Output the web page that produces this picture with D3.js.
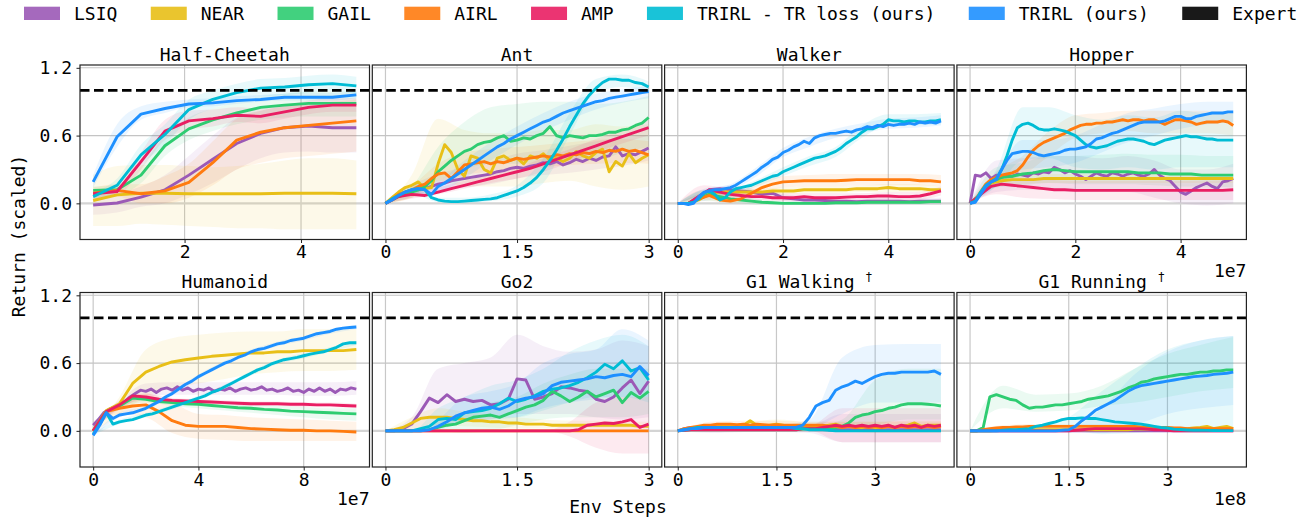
<!DOCTYPE html>
<html>
<head>
<meta charset="utf-8">
<script src="https://cdn.jsdelivr.net/npm/d3@7"></script>
<style>
  body { margin: 0; background: #fff; }
  svg { display: block; }
  text { font-family: "DejaVu Sans Mono", monospace; fill: #000; }
</style>
</head>
<body>
<svg id="chart" width="1299" height="521"></svg>
<script>
// ---- methods (legend order) ----
var methods = ["LSIQ", "NEAR", "GAIL", "AIRL", "AMP", "TRIRL - TR loss (ours)", "TRIRL (ours)"];
var methodColors = ["#9b59b6", "#e8bf17", "#2ecc71", "#ff7b0f", "#e91e63", "#00bcd4", "#1e90ff"];
var expertColor = "#000000";
var expertReturn = 1.0;

// ---- panels ----
var panelTitles = ["Half-Cheetah", "Ant", "Walker", "Hopper", "Humanoid", "Go2", "G1 Walking", "G1 Running"];
var panelDagger = [false, false, false, false, false, false, true, true];
var xSpans = [[0.43, 4.95], [0, 3], [0, 5], [0, 5], [0, 10], [0, 3], [0, 4], [0, 4]];
var xTickVals = [[2, 4], [0, 1.5, 3], [0, 2, 4], [0, 2, 4], [0, 4, 8], [0, 1.5, 3], [0, 1.5, 3], [0, 1.5, 3]];
var xOffsetText = ["", "", "", "1e7", "1e7", "", "", "1e8"];
var yTickVals = [0, 0.6, 1.2];

// each series is sampled evenly over its panel's x span; rows follow `methods`
var halfCheetahMean = [
	[-0.015, 0.003, 0.056, 0.12, 0.25, 0.39, 0.53, 0.62, 0.67, 0.685, 0.67, 0.67],
	[0.025, 0.075, 0.09, 0.09, 0.085, 0.085, 0.085, 0.085, 0.09, 0.09, 0.09, 0.085],
	[0.115, 0.12, 0.25, 0.51, 0.66, 0.74, 0.80, 0.85, 0.87, 0.885, 0.885, 0.885],
	[0.09, 0.115, 0.085, 0.11, 0.185, 0.36, 0.56, 0.63, 0.67, 0.69, 0.71, 0.73],
	[0.085, 0.105, 0.37, 0.64, 0.73, 0.75, 0.78, 0.77, 0.81, 0.85, 0.87, 0.87],
	[0.06, 0.16, 0.43, 0.61, 0.83, 0.92, 0.98, 1.02, 1.03, 1.05, 1.06, 1.04],
	[0.19, 0.59, 0.79, 0.84, 0.88, 0.89, 0.91, 0.92, 0.94, 0.94, 0.94, 0.96]
];
var halfCheetahLo = [
	[-0.1, -0.08, -0.03, 0.0, 0.08, 0.18, 0.3, 0.4, 0.45, 0.46, 0.45, 0.45],
	[-0.2, -0.2, -0.18, -0.19, -0.2, -0.21, -0.22, -0.22, -0.23, -0.23, -0.23, -0.23],
	[0.08, 0.08, 0.18, 0.42, 0.56, 0.64, 0.7, 0.74, 0.76, 0.77, 0.77, 0.77],
	[0.04, 0.06, 0.0, 0.0, 0.05, 0.16, 0.3, 0.36, 0.4, 0.42, 0.44, 0.46],
	[0.05, 0.07, 0.3, 0.56, 0.65, 0.68, 0.72, 0.71, 0.75, 0.79, 0.81, 0.81],
	[0.03, 0.1, 0.34, 0.52, 0.74, 0.84, 0.9, 0.95, 0.96, 0.98, 0.99, 0.97],
	[0.14, 0.5, 0.74, 0.8, 0.85, 0.86, 0.88, 0.9, 0.91, 0.91, 0.91, 0.93]
];
var halfCheetahHi = [
	[0.07, 0.09, 0.15, 0.25, 0.42, 0.6, 0.76, 0.82, 0.86, 0.88, 0.88, 0.88],
	[0.25, 0.33, 0.34, 0.34, 0.33, 0.32, 0.33, 0.35, 0.38, 0.4, 0.4, 0.38],
	[0.15, 0.16, 0.33, 0.6, 0.76, 0.84, 0.9, 0.95, 0.97, 0.99, 0.99, 0.99],
	[0.14, 0.17, 0.17, 0.24, 0.35, 0.55, 0.75, 0.82, 0.86, 0.88, 0.9, 0.92],
	[0.12, 0.14, 0.45, 0.74, 0.82, 0.83, 0.85, 0.84, 0.87, 0.91, 0.93, 0.93],
	[0.1, 0.22, 0.52, 0.7, 0.92, 1.0, 1.06, 1.1, 1.11, 1.13, 1.14, 1.12],
	[0.25, 0.7, 0.86, 0.9, 0.92, 0.93, 0.95, 0.96, 0.97, 0.98, 0.98, 0.99]
];

var antMean = [
	[0, 0.04, 0.08, 0.1, 0.12, 0.12, 0.13, 0.15, 0.17, 0.18, 0.2, 0.21, 0.22, 0.23, 0.24, 0.25, 0.26, 0.28, 0.29, 0.31, 0.32,
	 0.31, 0.33, 0.34, 0.36, 0.35, 0.37, 0.34, 0.36, 0.39, 0.37, 0.4, 0.38, 0.41, 0.42, 0.5, 0.42, 0.44, 0.43, 0.46, 0.49],
	[0, 0.05, 0.1, 0.14, 0.16, 0.19, 0.13, 0.14, 0.35, 0.52, 0.45, 0.3, 0.24, 0.42, 0.4, 0.3, 0.27, 0.4, 0.42, 0.38, 0.4,
	 0.35, 0.42, 0.4, 0.44, 0.38, 0.4, 0.37, 0.4, 0.46, 0.42, 0.4, 0.45, 0.48, 0.28, 0.37, 0.33, 0.44, 0.36, 0.4, 0.43],
	[0, 0.03, 0.06, 0.08, 0.1, 0.12, 0.15, 0.2, 0.28, 0.33, 0.38, 0.42, 0.46, 0.48, 0.52, 0.54, 0.55, 0.58, 0.6, 0.55, 0.56,
	 0.58, 0.57, 0.6, 0.62, 0.68, 0.6, 0.58, 0.6, 0.59, 0.58, 0.6, 0.6, 0.61, 0.63, 0.63, 0.65, 0.66, 0.69, 0.71, 0.76],
	[0, 0.04, 0.08, 0.1, 0.12, 0.15, 0.17, 0.22, 0.26, 0.27, 0.22, 0.28, 0.34, 0.35, 0.36, 0.37, 0.35, 0.37, 0.36, 0.38, 0.4,
	 0.39, 0.4, 0.41, 0.42, 0.41, 0.43, 0.42, 0.44, 0.43, 0.45, 0.44, 0.46, 0.45, 0.47, 0.46, 0.48, 0.46, 0.47, 0.45, 0.43],
	[0, 0.06, 0.08, 0.07, 0.1, 0.13, 0.16, 0.19, 0.22, 0.25, 0.28, 0.31, 0.35, 0.39, 0.43, 0.47, 0.51, 0.55, 0.59, 0.63, 0.67],
	[0, 0.04, 0.07, 0.1, 0.12, 0.13, 0.12, 0.05, 0.03, 0.02, 0.015, 0.015, 0.02, 0.025, 0.03, 0.035, 0.04, 0.05, 0.07, 0.09, 0.11,
	 0.14, 0.18, 0.23, 0.3, 0.38, 0.47, 0.57, 0.68, 0.78, 0.88, 0.96, 1.02, 1.07, 1.1, 1.1, 1.09, 1.09, 1.07, 1.06, 1.03],
	[0, 0.03, 0.07, 0.1, 0.12, 0.13, 0.12, 0.08, 0.15, 0.18, 0.22, 0.26, 0.3, 0.34, 0.38, 0.42, 0.46, 0.5, 0.53, 0.57, 0.6,
	 0.63, 0.66, 0.69, 0.72, 0.74, 0.77, 0.8, 0.82, 0.84, 0.86, 0.88, 0.9, 0.91, 0.93, 0.94, 0.95, 0.96, 0.97, 0.98, 0.99]
];
var antLo = [
	[0, 0.05, 0.1, 0.14, 0.17, 0.22, 0.25, 0.27, 0.3, 0.33, 0.38],
	[0, 0.05, 0.2, 0.15, 0.15, 0.15, 0.18, 0.2, 0.15, 0.12, 0.15],
	[0, 0.06, 0.2, 0.3, 0.35, 0.35, 0.35, 0.38, 0.38, 0.45, 0.5],
	[0, 0.05, 0.15, 0.25, 0.28, 0.3, 0.32, 0.34, 0.35, 0.36, 0.35],
	[0, 0.04, 0.08, 0.13, 0.18, 0.22, 0.28, 0.36, 0.45, 0.53, 0.6],
	[0, 0.08, 0.01, 0.0, 0.02, 0.06, 0.18, 0.6, 0.98, 1.03, 0.98],
	[0, 0.08, 0.1, 0.22, 0.38, 0.52, 0.64, 0.74, 0.83, 0.89, 0.93]
];
var antHi = [
	[0, 0.16, 0.26, 0.32, 0.37, 0.44, 0.47, 0.51, 0.55, 0.58, 0.6],
	[0, 0.25, 0.75, 0.65, 0.62, 0.62, 0.65, 0.65, 0.7, 0.68, 0.7],
	[0, 0.15, 0.5, 0.72, 0.85, 0.88, 0.9, 0.9, 0.88, 0.9, 0.95],
	[0, 0.15, 0.35, 0.45, 0.48, 0.5, 0.52, 0.54, 0.56, 0.57, 0.55],
	[0, 0.09, 0.14, 0.2, 0.26, 0.32, 0.4, 0.48, 0.57, 0.65, 0.74],
	[0, 0.14, 0.05, 0.05, 0.08, 0.16, 0.4, 0.8, 1.1, 1.14, 1.08],
	[0, 0.16, 0.2, 0.38, 0.54, 0.68, 0.8, 0.9, 0.97, 1.01, 1.04]
];

var walkerMean = [
	[0, 0, 0.06, 0.12, 0.13, 0.12, 0.11, 0.1, 0.08, 0.09, 0.05, 0.04, 0.03, 0.03, 0.025, 0.02, 0.02, 0.015, 0.02, 0.02, 0.02, 0.02, 0.015, 0.02, 0.02, 0.02],
	[0, 0, 0.03, 0.09, 0.1, 0.1, 0.1, 0.1, 0.1, 0.11, 0.11, 0.11, 0.12, 0.12, 0.12, 0.12, 0.12, 0.13, 0.13, 0.13, 0.14, 0.13, 0.13, 0.13, 0.12, 0.12],
	[0, 0, 0.04, 0.08, 0.06, 0.04, 0.03, 0.02, 0.01, 0.005, 0, 0, 0, 0, 0, 0.005, 0.005, 0.005, 0.01, 0.01, 0.01, 0.01, 0.01, 0.01, 0.015, 0.015],
	[0, 0, 0.04, 0.07, 0.03, 0.02, 0.04, 0.09, 0.14, 0.17, 0.19, 0.195, 0.2, 0.2, 0.2, 0.2, 0.205, 0.21, 0.21, 0.21, 0.21, 0.21, 0.21, 0.2, 0.2, 0.19],
	[0, 0, 0.06, 0.12, 0.1, 0.08, 0.07, 0.06, 0.06, 0.05, 0.05, 0.05, 0.06, 0.05, 0.05, 0.05, 0.055, 0.06, 0.06, 0.065, 0.065, 0.06, 0.06, 0.065, 0.085, 0.11],
	[0, 0, 0, 0.01, 0.04, 0.09, 0.11, 0.08, 0.03, 0.05, 0.1, 0.13, 0.14, 0.15, 0.16, 0.18, 0.2, 0.22, 0.24, 0.25, 0.28,
	 0.3, 0.32, 0.34, 0.36, 0.38, 0.4, 0.41, 0.42, 0.44, 0.46, 0.49, 0.53, 0.56, 0.59, 0.63, 0.66, 0.66, 0.68, 0.7, 0.74,
	 0.73, 0.73, 0.72, 0.73, 0.73, 0.72, 0.72, 0.73, 0.73, 0.74],
	[0, 0, -0.01, 0, 0.06, 0.1, 0.11, 0.12, 0.12, 0.13, 0.14, 0.16, 0.19, 0.22, 0.25, 0.28, 0.32, 0.35, 0.39, 0.41, 0.45,
	 0.47, 0.5, 0.52, 0.55, 0.53, 0.58, 0.6, 0.61, 0.62, 0.62, 0.63, 0.64, 0.63, 0.65, 0.66, 0.68, 0.67, 0.69, 0.68, 0.7,
	 0.69, 0.7, 0.7, 0.71, 0.7, 0.72, 0.71, 0.72, 0.71, 0.73]
];
var walkerLo = [
	[0, 0.02, 0.06, 0.05, 0.02, 0, -0.01, -0.01, -0.01, -0.01, -0.01],
	[0, 0.04, 0.06, 0.07, 0.08, 0.09, 0.09, 0.1, 0.1, 0.1, 0.09],
	[0, 0.02, 0.01, -0.01, -0.01, -0.01, -0.01, -0.01, -0.01, -0.01, -0.01],
	[0, 0.03, 0.0, 0.06, 0.14, 0.15, 0.15, 0.16, 0.16, 0.16, 0.15],
	[0, 0.06, 0.04, 0.03, 0.02, 0.02, 0.02, 0.02, 0.03, 0.03, 0.07],
	[0, 0.06, 0.07, 0.15, 0.24, 0.33, 0.41, 0.58, 0.69, 0.69, 0.7],
	[0, 0.07, 0.11, 0.24, 0.41, 0.5, 0.58, 0.62, 0.66, 0.67, 0.69]
];
var walkerHi = [
	[0, 0.1, 0.16, 0.12, 0.08, 0.06, 0.05, 0.05, 0.05, 0.05, 0.05],
	[0, 0.1, 0.13, 0.13, 0.14, 0.15, 0.15, 0.16, 0.17, 0.17, 0.15],
	[0, 0.11, 0.08, 0.04, 0.02, 0.02, 0.02, 0.03, 0.03, 0.03, 0.04],
	[0, 0.12, 0.07, 0.18, 0.24, 0.25, 0.26, 0.26, 0.26, 0.26, 0.25],
	[0, 0.16, 0.12, 0.1, 0.09, 0.09, 0.09, 0.09, 0.1, 0.1, 0.15],
	[0, 0.12, 0.13, 0.21, 0.32, 0.42, 0.5, 0.69, 0.79, 0.79, 0.8],
	[0, 0.13, 0.17, 0.32, 0.49, 0.59, 0.66, 0.71, 0.75, 0.76, 0.78]
];

var hopperMean = [
	[0, 0.25, 0.24, 0.27, 0.22, 0.25, 0.23, 0.25, 0.24, 0.26, 0.25, 0.24, 0.27, 0.26, 0.28, 0.27, 0.32, 0.3, 0.27, 0.29, 0.26,
	 0.24, 0.21, 0.24, 0.27, 0.25, 0.24, 0.27, 0.26, 0.24, 0.26, 0.27, 0.25, 0.24, 0.26, 0.3, 0.25, 0.22, 0.2, 0.15, 0.1,
	 0.08, 0.11, 0.14, 0.16, 0.18, 0.15, 0.13, 0.19, 0.2, 0.22],
	[0, 0.08, 0.18, 0.2, 0.21, 0.21, 0.21, 0.22, 0.22, 0.22, 0.22, 0.22, 0.22, 0.22, 0.22, 0.22, 0.22, 0.22, 0.22, 0.22, 0.22, 0.22, 0.22, 0.22, 0.22, 0.22],
	[0, 0.08, 0.19, 0.23, 0.24, 0.26, 0.27, 0.29, 0.3, 0.29, 0.28, 0.28, 0.28, 0.28, 0.28, 0.28, 0.27, 0.27, 0.27, 0.26, 0.26, 0.26, 0.25, 0.25, 0.25, 0.25],
	[0, 0.02, 0.1, 0.17, 0.21, 0.23, 0.25, 0.26, 0.27, 0.29, 0.34, 0.41, 0.47, 0.51, 0.54, 0.56, 0.58, 0.6, 0.62, 0.65, 0.67,
	 0.69, 0.7, 0.7, 0.71, 0.71, 0.72, 0.72, 0.73, 0.74, 0.73, 0.74, 0.74, 0.73, 0.74, 0.74, 0.72, 0.7, 0.72, 0.74, 0.74,
	 0.73, 0.72, 0.7, 0.71, 0.72, 0.72, 0.72, 0.73, 0.72, 0.69],
	[0, 0.08, 0.15, 0.17, 0.16, 0.15, 0.14, 0.13, 0.12, 0.12, 0.115, 0.115, 0.115, 0.115, 0.115, 0.115, 0.115, 0.115, 0.115, 0.115, 0.115, 0.115, 0.115, 0.115, 0.115, 0.12],
	[0, 0.02, 0.1, 0.16, 0.19, 0.22, 0.3, 0.42, 0.56, 0.67, 0.7, 0.71, 0.69, 0.66, 0.65, 0.65, 0.66, 0.65, 0.64, 0.62, 0.6,
	 0.56, 0.52, 0.5, 0.49, 0.5, 0.51, 0.53, 0.55, 0.56, 0.57, 0.57, 0.56, 0.55, 0.53, 0.52, 0.54, 0.56, 0.57, 0.58, 0.59,
	 0.6, 0.59, 0.59, 0.58, 0.57, 0.57, 0.56, 0.56, 0.56, 0.56],
	[0, 0.01, 0.08, 0.15, 0.19, 0.21, 0.3, 0.38, 0.44, 0.45, 0.46, 0.46, 0.45, 0.43, 0.42, 0.43, 0.44, 0.45, 0.47, 0.48, 0.48,
	 0.49, 0.5, 0.53, 0.57, 0.58, 0.6, 0.62, 0.63, 0.65, 0.67, 0.69, 0.71, 0.72, 0.72, 0.72, 0.72, 0.73, 0.75, 0.77, 0.77,
	 0.75, 0.75, 0.77, 0.78, 0.79, 0.8, 0.8, 0.8, 0.81, 0.81]
];
var hopperLo = [
	[0, 0.1, 0.12, 0.12, 0.1, 0.1, 0.1, 0.05, 0.0, -0.02, 0.0],
	[0, 0.15, 0.17, 0.18, 0.18, 0.18, 0.18, 0.18, 0.18, 0.18, 0.18],
	[0, 0.14, 0.16, 0.18, 0.17, 0.17, 0.17, 0.16, 0.15, 0.15, 0.14],
	[0, 0.18, 0.25, 0.42, 0.58, 0.62, 0.64, 0.62, 0.62, 0.62, 0.6],
	[0, 0.08, 0.05, 0.04, 0.03, 0.03, 0.03, 0.03, 0.03, 0.03, 0.03],
	[0, 0.15, 0.38, 0.4, 0.32, 0.3, 0.32, 0.3, 0.32, 0.32, 0.32],
	[0, 0.15, 0.3, 0.32, 0.36, 0.45, 0.54, 0.6, 0.66, 0.7, 0.72]
];
var hopperHi = [
	[0, 0.38, 0.4, 0.42, 0.42, 0.4, 0.42, 0.38, 0.3, 0.3, 0.35],
	[0, 0.23, 0.25, 0.26, 0.26, 0.26, 0.26, 0.26, 0.26, 0.26, 0.26],
	[0, 0.32, 0.36, 0.42, 0.42, 0.43, 0.44, 0.43, 0.43, 0.42, 0.42],
	[0, 0.28, 0.42, 0.64, 0.78, 0.8, 0.82, 0.82, 0.82, 0.82, 0.8],
	[0, 0.24, 0.23, 0.21, 0.2, 0.2, 0.2, 0.2, 0.2, 0.2, 0.21],
	[0, 0.3, 0.85, 0.85, 0.78, 0.74, 0.78, 0.76, 0.82, 0.8, 0.8],
	[0, 0.27, 0.56, 0.56, 0.6, 0.7, 0.8, 0.84, 0.88, 0.9, 0.9]
];

var humanoidMean = [
	[0.05, 0.1, 0.16, 0.19, 0.21, 0.23, 0.26, 0.3, 0.33, 0.36, 0.35, 0.37, 0.34, 0.37, 0.38, 0.36, 0.39, 0.36, 0.38, 0.35, 0.37,
	 0.36, 0.38, 0.35, 0.37, 0.36, 0.38, 0.35, 0.37, 0.38, 0.36, 0.37, 0.39, 0.36, 0.37, 0.35, 0.36, 0.38, 0.35, 0.36, 0.34,
	 0.37, 0.35, 0.38, 0.35, 0.37, 0.34, 0.37, 0.36, 0.38, 0.37],
	[0.0, 0.18, 0.24, 0.42, 0.52, 0.57, 0.61, 0.63, 0.645, 0.66, 0.67, 0.68, 0.69, 0.69, 0.7, 0.7, 0.71, 0.71, 0.71, 0.71, 0.72],
	[0, 0.17, 0.22, 0.29, 0.28, 0.26, 0.25, 0.24, 0.235, 0.225, 0.215, 0.205, 0.2, 0.19, 0.185, 0.175, 0.17, 0.165, 0.16, 0.155, 0.15],
	[0, 0.17, 0.2, 0.22, 0.23, 0.17, 0.09, 0.05, 0.04, 0.04, 0.04, 0.03, 0.02, 0.015, 0.01, 0.005, 0.005, 0.0, 0.0, -0.005, -0.01],
	[0, 0.17, 0.23, 0.31, 0.3, 0.28, 0.27, 0.265, 0.26, 0.255, 0.25, 0.245, 0.24, 0.24, 0.24, 0.235, 0.235, 0.23, 0.23, 0.225, 0.22],
	[-0.03, 0.06, 0.16, 0.06, 0.08, 0.09, 0.1, 0.12, 0.14, 0.15, 0.17, 0.19, 0.21, 0.23, 0.25, 0.27, 0.29, 0.31, 0.34, 0.36, 0.39,
	 0.42, 0.45, 0.48, 0.51, 0.54, 0.56, 0.59, 0.61, 0.63, 0.64, 0.65, 0.665, 0.68, 0.69, 0.7, 0.72, 0.74, 0.77, 0.78, 0.78],
	[-0.04, 0.05, 0.16, 0.11, 0.14, 0.15, 0.16, 0.18, 0.2, 0.23, 0.26, 0.3, 0.33, 0.37, 0.41, 0.44, 0.48, 0.51, 0.54, 0.57, 0.6,
	 0.62, 0.65, 0.67, 0.7, 0.72, 0.73, 0.75, 0.77, 0.78, 0.8, 0.81, 0.82, 0.84, 0.86, 0.87, 0.88, 0.9, 0.91, 0.915, 0.92]
];
var humanoidLo = [
	[0.02, 0.19, 0.3, 0.32, 0.32, 0.32, 0.32, 0.32, 0.31, 0.31, 0.32],
	[-0.02, 0.15, 0.3, 0.38, 0.42, 0.46, 0.5, 0.52, 0.53, 0.53, 0.54],
	[0, 0.2, 0.25, 0.22, 0.2, 0.18, 0.16, 0.14, 0.12, 0.1, 0.09],
	[0, 0.15, 0.12, -0.02, -0.07, -0.08, -0.09, -0.09, -0.09, -0.09, -0.09],
	[0, 0.2, 0.27, 0.25, 0.24, 0.23, 0.22, 0.22, 0.21, 0.21, 0.2],
	[-0.04, 0.06, 0.12, 0.19, 0.27, 0.37, 0.49, 0.59, 0.64, 0.7, 0.76],
	[-0.05, 0.12, 0.18, 0.31, 0.46, 0.58, 0.68, 0.75, 0.8, 0.86, 0.9]
];
var humanoidHi = [
	[0.08, 0.27, 0.42, 0.43, 0.43, 0.43, 0.43, 0.43, 0.43, 0.43, 0.44],
	[0.02, 0.3, 0.72, 0.82, 0.85, 0.87, 0.88, 0.88, 0.9, 0.9, 0.9],
	[0, 0.24, 0.3, 0.28, 0.26, 0.25, 0.23, 0.22, 0.21, 0.2, 0.2],
	[0, 0.25, 0.33, 0.25, 0.15, 0.14, 0.12, 0.11, 0.1, 0.09, 0.08],
	[0, 0.24, 0.33, 0.29, 0.28, 0.27, 0.26, 0.26, 0.25, 0.25, 0.24],
	[-0.02, 0.1, 0.16, 0.23, 0.31, 0.41, 0.53, 0.63, 0.69, 0.74, 0.8],
	[-0.03, 0.16, 0.22, 0.35, 0.5, 0.62, 0.72, 0.79, 0.84, 0.9, 0.94]
];

var go2Mean = [
	[0, 0, 0.02, 0.06, 0.17, 0.29, 0.25, 0.32, 0.26, 0.28, 0.26, 0.27, 0.23, 0.24, 0.28, 0.46, 0.45, 0.28, 0.3, 0.33, 0.39,
	 0.38, 0.36, 0.35, 0.28, 0.26, 0.3, 0.38, 0.45, 0.33, 0.44],
	[0, 0.01, 0.03, 0.07, 0.11, 0.12, 0.12, 0.12, 0.11, 0.1, 0.09, 0.09, 0.08, 0.08, 0.07, 0.07, 0.06, 0.06, 0.06, 0.05, 0.05,
	 0.05, 0.05, 0.05, 0.05, 0.05, 0.05, 0.05, 0.05, 0.04, 0.04],
	[0, 0, 0, 0, 0, 0.01, 0.03, 0.05, 0.06, 0.09, 0.12, 0.13, 0.14, 0.12, 0.15, 0.18, 0.21, 0.23, 0.27, 0.35, 0.31,
	 0.26, 0.3, 0.35, 0.3, 0.33, 0.36, 0.25, 0.34, 0.29, 0.35],
	[0, 0, 0, 0, 0, 0, 0, 0, 0, 0, 0],
	[0, 0, 0, 0, 0, 0, 0, 0, 0, 0, 0, 0, 0, 0, 0, 0, 0, 0, 0, 0, 0,
	 0, 0.01, 0.05, 0.06, 0.07, 0.065, 0.08, 0.1, 0.03, 0.06],
	[0, 0, 0, 0, 0.02, 0.04, 0.1, 0.11, 0.1, 0.16, 0.17, 0.18, 0.2, 0.24, 0.29, 0.26, 0.28, 0.31, 0.35, 0.37, 0.38,
	 0.4, 0.43, 0.47, 0.52, 0.59, 0.55, 0.62, 0.53, 0.56, 0.45],
	[0, 0, 0, 0, 0, 0.01, 0.04, 0.08, 0.13, 0.16, 0.18, 0.2, 0.21, 0.19, 0.22, 0.27, 0.29, 0.3, 0.33, 0.4, 0.43,
	 0.44, 0.45, 0.46, 0.48, 0.47, 0.49, 0.5, 0.48, 0.57, 0.49]
];
var go2Lo = [
	[0, 0.0, 0.05, 0.08, 0.1, 0.15, 0.15, 0.15, 0.12, 0.1, 0.12],
	[0, 0.0, 0.05, 0.04, 0.03, 0.02, 0.02, 0.02, 0.02, 0.02, 0.02],
	[0, 0, 0, -0.02, 0.0, 0.05, 0.1, 0.12, 0.12, 0.12, 0.15],
	[0, 0, 0, 0, 0, 0, 0, 0, 0, 0, 0],
	[0, 0, 0, 0, 0, 0, 0, -0.05, -0.15, -0.2, -0.2],
	[0, 0, 0.02, 0.08, 0.12, 0.12, 0.18, 0.25, 0.3, 0.3, 0.25],
	[0, 0, 0.01, 0.08, 0.1, 0.12, 0.2, 0.25, 0.28, 0.3, 0.3]
];
var go2Hi = [
	[0, 0.12, 0.55, 0.6, 0.65, 0.85, 0.75, 0.7, 0.72, 0.8, 0.75],
	[0, 0.12, 0.2, 0.17, 0.14, 0.12, 0.1, 0.09, 0.09, 0.08, 0.08],
	[0, 0, 0.08, 0.15, 0.25, 0.3, 0.42, 0.5, 0.55, 0.55, 0.55],
	[0, 0, 0, 0, 0, 0, 0, 0, 0, 0, 0],
	[0, 0, 0, 0, 0, 0, 0, 0.08, 0.25, 0.3, 0.3],
	[0, 0, 0.2, 0.3, 0.4, 0.45, 0.55, 0.7, 0.8, 0.85, 0.75],
	[0, 0, 0.1, 0.3, 0.35, 0.42, 0.6, 0.68, 0.72, 0.9, 0.8]
];

var g1WalkMean = [
	[0, 0.02, 0.03, 0.03, 0.02, 0.02, 0.02, 0.02, 0.02, 0.02, 0.02, 0.02, 0.02, 0.02, 0.02, 0.02, 0.02, 0.02, 0.02, 0.02, 0.02,
	 0.02, 0.02, 0.01, 0.01, 0.01, 0.01, 0.01, 0.01, 0.01, 0.01, 0.01, 0.01, 0.01, 0.01, 0.01, 0.01, 0.01, 0.01, 0.01, 0.01],
	[0, 0.01, 0.02, 0.03, 0.03, 0.04, 0.04, 0.04, 0.04, 0.04, 0.05, 0.09, 0.05, 0.04, 0.05, 0.06, 0.05, 0.04, 0.04, 0.04, 0.04,
	 0.04, 0.04, 0.05, 0.06, 0.04, 0.04, 0.03, 0.03, 0.04, 0.03, 0.03, 0.04, 0.03, 0.04, 0.05, 0.07, 0.04, 0.05, 0.05, 0.05],
	[0, 0.005, 0.01, 0.01, 0.01, 0.01, 0.01, 0.01, 0.01, 0.01, 0.01, 0.01, 0.01, 0.01, 0.01, 0.01, 0.01, 0.01, 0.01, 0.015, 0.02,
	 0.02, 0.02, 0.02, 0.03, 0.04, 0.07, 0.12, 0.14, 0.15, 0.17, 0.18, 0.2, 0.21, 0.23, 0.24, 0.24, 0.24, 0.235, 0.23, 0.22],
	[0, 0.02, 0.03, 0.04, 0.05, 0.05, 0.06, 0.06, 0.06, 0.055, 0.06, 0.05, 0.06, 0.055, 0.05, 0.055, 0.05, 0.05, 0.05, 0.05, 0.05,
	 0.05, 0.05, 0.04, 0.04, 0.03, 0.04, 0.03, 0.04, 0.03, 0.04, 0.03, 0.04, 0.03, 0.04, 0.03, 0.04, 0.03, 0.04, 0.03, 0.04],
	[0, 0.005, 0.01, 0.01, 0.01, 0.01, 0.01, 0.01, 0.01, 0.01, 0.01, 0.01, 0.01, 0.01, 0.01, 0.01, 0.01, 0.01, 0.01, 0.02, 0.02,
	 0.02, 0.03, 0.04, 0.05, 0.04, 0.05, 0.04, 0.05, 0.04, 0.05, 0.04, 0.05, 0.03, 0.05, 0.04, 0.05, 0.03, 0.05, 0.04, 0.05],
	[0, 0.01, 0.02, 0.03, 0.03, 0.03, 0.03, 0.03, 0.03, 0.03, 0.03, 0.03, 0.03, 0.03, 0.03, 0.03, 0.03, 0.03, 0.02, 0.02, 0.01,
	 0.01, 0.01, 0.005, 0, 0, 0, 0, 0, 0, 0, 0, 0, 0, 0, 0, 0, 0, 0, 0, 0],
	[0, 0.01, 0.02, 0.02, 0.03, 0.03, 0.03, 0.03, 0.03, 0.03, 0.03, 0.03, 0.03, 0.03, 0.03, 0.03, 0.03, 0.03, 0.03, 0.05, 0.12,
	 0.22, 0.25, 0.27, 0.36, 0.39, 0.41, 0.44, 0.42, 0.45, 0.48, 0.5, 0.51, 0.51, 0.52, 0.52, 0.52, 0.52, 0.52, 0.53, 0.5]
];
var g1WalkLo = [
	[0, -0.02, -0.01, -0.01, -0.02, -0.1, -0.1, -0.1, -0.1],
	[0, 0, 0.01, 0.02, 0.02, 0.01, 0.01, 0.01, 0.01],
	[0, 0, 0, 0, 0, 0, 0.05, 0.1, 0.1],
	[0, 0.02, 0.03, 0.03, 0.03, 0.0, -0.02, -0.02, -0.02],
	[0, 0, 0, 0, 0, -0.1, -0.1, -0.1, -0.1],
	[0, 0, 0, 0, 0, 0, 0, 0, 0],
	[0, 0, 0.01, 0.01, 0.02, 0.15, 0.25, 0.25, 0.25]
];
var g1WalkHi = [
	[0, 0.06, 0.05, 0.05, 0.05, 0.15, 0.15, 0.15, 0.15],
	[0, 0.06, 0.07, 0.1, 0.08, 0.08, 0.08, 0.09, 0.09],
	[0, 0.02, 0.02, 0.02, 0.03, 0.1, 0.45, 0.55, 0.55],
	[0, 0.08, 0.09, 0.09, 0.08, 0.08, 0.08, 0.08, 0.08],
	[0, 0.02, 0.02, 0.02, 0.04, 0.2, 0.2, 0.2, 0.2],
	[0, 0.05, 0.05, 0.05, 0.03, 0.01, 0.01, 0.01, 0.01],
	[0, 0.05, 0.05, 0.05, 0.1, 0.65, 0.76, 0.77, 0.77]
];

var g1RunMean = [
	[0, 0, 0, 0, 0, 0, 0, 0, 0, 0, 0],
	[0, 0, 0, 0, 0.005, 0.01, 0.01, 0.01, 0.01, 0.01, 0.01, 0.01, 0.01, 0.01, 0.01, 0.01, 0.01, 0.01, 0.01, 0.01, 0.01,
	 0.01, 0.01, 0.01, 0.01, 0.015, 0.015, 0.015, 0.02, 0.02, 0.02, 0.02, 0.02, 0.02, 0.025, 0.03, 0.04, 0.02, 0.03, 0.04, 0.02],
	[0, 0, 0.03, 0.3, 0.32, 0.3, 0.28, 0.27, 0.23, 0.2, 0.21, 0.21, 0.22, 0.23, 0.23, 0.24, 0.25, 0.26, 0.28, 0.29, 0.3,
	 0.31, 0.33, 0.35, 0.38, 0.4, 0.43, 0.44, 0.46, 0.47, 0.48, 0.49, 0.5, 0.5, 0.51, 0.52, 0.52, 0.53, 0.53, 0.54, 0.54],
	[0, 0, 0.01, 0.02, 0.025, 0.03, 0.03, 0.035, 0.035, 0.04, 0.04, 0.04, 0.04, 0.04, 0.04, 0.04, 0.04, 0.04, 0.04, 0.04, 0.04,
	 0.04, 0.04, 0.04, 0.04, 0.04, 0.035, 0.035, 0.03, 0.03, 0.03, 0.025, 0.025, 0.02, 0.02, 0.02, 0.02, 0.02, 0.02, 0.02, 0.02],
	[0, 0, 0, 0, 0, 0, 0, 0, 0, 0, 0, 0, 0, 0, 0, 0, 0.005, 0.01, 0.015, 0.02, 0.02,
	 0.02, 0.02, 0.02, 0.02, 0.02, 0.02, 0.015, 0.01, 0.01, 0.005, 0, 0, 0, 0, 0, 0, 0, 0, 0, 0],
	[0, 0, 0, 0, 0, 0.005, 0.01, 0.01, 0.015, 0.02, 0.04, 0.05, 0.065, 0.08, 0.1, 0.11, 0.11, 0.115, 0.11, 0.11, 0.1,
	 0.09, 0.08, 0.075, 0.07, 0.065, 0.06, 0.05, 0.04, 0.03, 0.025, 0.015, 0.012, 0.008, 0.005, 0.005, 0.004, 0.003, 0.002, 0.002, 0.002],
	[0, 0, 0, 0, 0, 0, 0, 0, 0, 0, 0, 0, 0, 0, 0.005, 0.01, 0.04, 0.09, 0.13, 0.18, 0.21,
	 0.24, 0.27, 0.31, 0.35, 0.38, 0.4, 0.41, 0.42, 0.43, 0.44, 0.45, 0.46, 0.47, 0.48, 0.485, 0.49, 0.5, 0.505, 0.51, 0.52]
];
var g1RunLo = [
	[0, 0, 0, 0, 0, 0, 0, 0, 0],
	[0, 0, 0, 0, 0, 0, 0, 0, 0],
	[0, 0.2, 0.17, 0.18, 0.22, 0.25, 0.3, 0.35, 0.38],
	[0, 0.01, 0.02, 0.02, 0.02, 0.02, 0.01, 0.01, 0.01],
	[0, 0, 0, 0, 0, 0, 0, 0, 0],
	[0, 0, 0, 0, -0.03, -0.02, 0.0, 0.0, 0.0],
	[0, 0, 0, 0, -0.02, 0.05, 0.15, 0.2, 0.23]
];
var g1RunHi = [
	[0, 0, 0, 0, 0, 0, 0, 0, 0],
	[0, 0.02, 0.02, 0.02, 0.02, 0.03, 0.03, 0.04, 0.04],
	[0, 0.4, 0.32, 0.33, 0.4, 0.55, 0.68, 0.76, 0.83],
	[0, 0.05, 0.06, 0.06, 0.06, 0.05, 0.04, 0.03, 0.03],
	[0, 0, 0, 0.02, 0.03, 0.02, 0.01, 0, 0],
	[0, 0.01, 0.04, 0.12, 0.35, 0.55, 0.72, 0.8, 0.84],
	[0, 0, 0, 0.02, 0.2, 0.5, 0.7, 0.8, 0.84]
];

var panelMeans = [halfCheetahMean, antMean, walkerMean, hopperMean, humanoidMean, go2Mean, g1WalkMean, g1RunMean];
var panelLos = [halfCheetahLo, antLo, walkerLo, hopperLo, humanoidLo, go2Lo, g1WalkLo, g1RunLo];
var panelHis = [halfCheetahHi, antHi, walkerHi, hopperHi, humanoidHi, go2Hi, g1WalkHi, g1RunHi];

// ---- layout ----
var fontSize = 18;
var panelW = 289.5, panelH = 174.5;
var rowTop = [65, 292.5];
var colStep = 292.3, firstLeft = 80;
var yDomain = [-0.32, 1.225];

var svg = d3.select("#chart");

// sample positions spread evenly over a span
function spread(span, n) {
	return d3.range(n).map(function(i) { return span[0] + (span[1] - span[0]) * i / (n - 1); });
}

function drawPanel(p)
{
	var row = Math.floor(p / 4), col = p % 4;
	var left = firstLeft + col * colStep, top = rowTop[row];
	var span = xSpans[p];
	var pad = 0.05 * (span[1] - span[0]);

	var x = d3.scaleLinear().domain([span[0] - pad, span[1] + pad]).range([0, panelW]);
	var y = d3.scaleLinear().domain(yDomain).range([panelH, 0]);

	var g = svg.append("g").attr("transform", "translate(" + left + "," + top + ")");

	g.append("clipPath").attr("id", "clip" + p)
		.append("rect").attr("width", panelW).attr("height", panelH);

	// grid
	g.selectAll("line.vgrid").data(xTickVals[p]).join("line")
		.attr("x1", function(d) { return x(d); }).attr("x2", function(d) { return x(d); })
		.attr("y1", 0).attr("y2", panelH)
		.attr("stroke", "#c8c8c8").attr("stroke-width", 1.2);
	g.selectAll("line.hgrid").data(yTickVals).join("line")
		.attr("x1", 0).attr("x2", panelW)
		.attr("y1", function(d) { return y(d); }).attr("y2", function(d) { return y(d); })
		.attr("stroke", function(d) { return d === 0 ? "#d4d4d4" : "#c4c4c4"; })
		.attr("stroke-width", function(d) { return d === 0 ? 2.4 : 1.1; });

	var plot = g.append("g").attr("clip-path", "url(#clip" + p + ")");

	// shaded bands
	methods.forEach(function(m, s) {
		var lo = panelLos[p][s], hi = panelHis[p][s];
		var xs = spread(span, lo.length);
		var area = d3.area()
			.x(function(d, i) { return x(xs[i]); })
			.y0(function(d, i) { return y(lo[i]); })
			.y1(function(d, i) { return y(hi[i]); })
			.curve(d3.curveMonotoneX);
		plot.append("path").datum(lo)
			.attr("d", area)
			.attr("fill", methodColors[s])
			.attr("fill-opacity", 0.095);
	});

	// mean curves
	methods.forEach(function(m, s) {
		var vals = panelMeans[p][s];
		var xs = spread(span, vals.length);
		var line = d3.line()
			.x(function(d, i) { return x(xs[i]); })
			.y(function(d) { return y(d); });
		plot.append("path").datum(vals)
			.attr("d", line)
			.attr("fill", "none")
			.attr("stroke", methodColors[s])
			.attr("stroke-width", 2.9)
			.attr("stroke-linejoin", "round")
			.attr("stroke-linecap", "butt");
	});

	// expert level
	plot.append("line")
		.attr("x1", 0).attr("x2", panelW)
		.attr("y1", y(expertReturn)).attr("y2", y(expertReturn))
		.attr("stroke", expertColor).attr("stroke-width", 2.6)
		.attr("stroke-dasharray", "9.5,4.5");

	// frame
	g.append("rect").attr("width", panelW).attr("height", panelH)
		.attr("fill", "none").attr("stroke", "#222").attr("stroke-width", 1.2);

	// axes
	var xAxis = d3.axisBottom(x).tickValues(xTickVals[p]).tickFormat(d3.format("~g"))
		.tickSize(3.5).tickPadding(2.5);
	var xg = g.append("g").attr("transform", "translate(0," + panelH + ")").call(xAxis);
	xg.select(".domain").remove();
	xg.selectAll("text").attr("font-size", fontSize).attr("font-family", "DejaVu Sans Mono").attr("fill", "#000");
	xg.selectAll("line").attr("stroke", "#222");

	if (col === 0) {
		var yAxis = d3.axisLeft(y).tickValues(yTickVals).tickFormat(d3.format(".1f"))
			.tickSize(3.5).tickPadding(4.5);
		var yg = g.append("g").call(yAxis);
		yg.select(".domain").remove();
		yg.selectAll("text").attr("font-size", fontSize).attr("font-family", "DejaVu Sans Mono").attr("fill", "#000");
		yg.selectAll("line").attr("stroke", "#222");
	}

	if (xOffsetText[p]) {
		g.append("text").attr("x", panelW).attr("y", panelH + 37.5)
			.attr("text-anchor", "end").attr("font-size", fontSize)
			.text(xOffsetText[p]);
	}

	// title
	var t = g.append("text").attr("x", panelW / 2).attr("y", -4.5)
		.attr("text-anchor", "middle").attr("font-size", fontSize);
	t.append("tspan").text(panelTitles[p] + (panelDagger[p] ? " " : ""));
	if (panelDagger[p]) {
		t.append("tspan").attr("font-size", 12).attr("dy", -7).text("\u2020");
	}
}

d3.range(panelTitles.length).forEach(drawPanel);

// shared axis labels
svg.append("text").attr("x", 618).attr("y", 513)
	.attr("text-anchor", "middle").attr("font-size", fontSize).text("Env Steps");
svg.append("text").attr("transform", "translate(25,236) rotate(-90)")
	.attr("text-anchor", "middle").attr("font-size", fontSize).text("Return (scaled)");

// legend
var legendItems = methods.concat(["Expert"]);
var legendColors = methodColors.concat([expertColor]);
var lx = 24;
legendItems.forEach(function(name, i) {
	svg.append("rect").attr("x", lx).attr("y", 6.7).attr("width", 36).attr("height", 13.3)
		.attr("fill", legendColors[i]).attr("fill-opacity", 0.9);
	var txt = svg.append("text").attr("x", lx + 50).attr("y", 20)
		.attr("font-size", fontSize).text(name);
	lx = lx + 50 + txt.node().getComputedTextLength() + 33.4;
});
</script>
</body>
</html>
